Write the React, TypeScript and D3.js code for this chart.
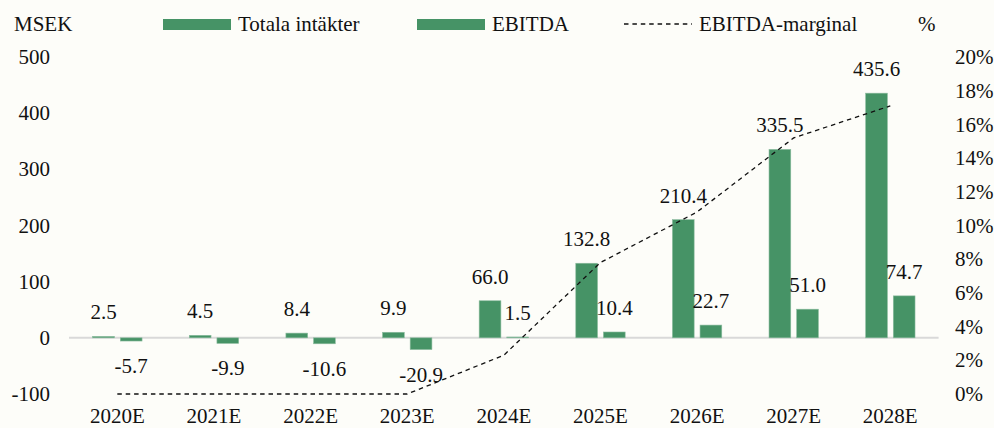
import { useEffect, useRef } from 'react';
import * as d3 from 'd3';

const WIDTH = 994;
const HEIGHT = 428;
const MARGIN = { top: 57, right: 56, bottom: 34, left: 69 };
const FONT = '"Liberation Serif", "Times New Roman", serif';
const GREEN = '#469366';

const years = ['2020E', '2021E', '2022E', '2023E', '2024E', '2025E', '2026E', '2027E', '2028E'];
const revenue = [2.5, 4.5, 8.4, 9.9, 66.0, 132.8, 210.4, 335.5, 435.6];
const ebitda = [-5.7, -9.9, -10.6, -20.9, 1.5, 10.4, 22.7, 51.0, 74.7];
// margin line as drawn (negative years sit on the 0% floor)
const margin = [0, 0, 0, 0, 0.023, 0.078, 0.108, 0.152, 0.171];

const App = () => {
    const axesRef = useRef<SVGGElement>(null);

    const x = d3
        .scaleBand()
        .domain(years)
        .range([MARGIN.left, WIDTH - MARGIN.right + 0.6]);
    const bw = x.bandwidth();

    const yLeft = d3
        .scaleLinear()
        .domain([-100, 500])
        .range([HEIGHT - MARGIN.bottom, MARGIN.top]);
    const yRight = d3
        .scaleLinear()
        .domain([0, 0.2])
        .range([HEIGHT - MARGIN.bottom, MARGIN.top]);

    useEffect(() => {
        const g = d3.select(axesRef.current);
        g.selectAll('*').remove();

        g.selectAll('text.left')
            .data(yLeft.ticks(6))
            .join('text')
            .attr('class', 'left')
            .attr('x', 50)
            .attr('y', (d) => yLeft(d))
            .attr('dy', '0.34em')
            .attr('text-anchor', 'end')
            .text((d) => String(d));

        g.selectAll('text.right')
            .data(yRight.ticks(10))
            .join('text')
            .attr('class', 'right')
            .attr('x', 955)
            .attr('y', (d) => yRight(d))
            .attr('dy', '0.34em')
            .attr('text-anchor', 'start')
            .text((d) => d3.format('.0%')(d));

        g.selectAll('text.cat')
            .data(years)
            .join('text')
            .attr('class', 'cat')
            .attr('x', (d) => (x(d) || 0) + bw / 2)
            .attr('y', 423)
            .attr('text-anchor', 'middle')
            .text((d) => d);
    }, [x, yLeft, yRight, bw]);

    const lineBuilder = d3
        .line<number>()
        .x((_, i) => (x(years[i]) || 0) + bw / 2)
        .y((d) => yRight(d));
    const linePath = lineBuilder(margin) || '';

    const barW = bw * 0.225;
    const revX = (i: number) => (x(years[i]) || 0) + bw * 0.245;
    const ebX = (i: number) => (x(years[i]) || 0) + bw * 0.531;
    const y0 = yLeft(0);

    return (
        <svg
            width={WIDTH}
            height={HEIGHT}
            style={{ position: 'absolute', left: 0, top: 0, background: '#fdfdf9' }}
            fontFamily={FONT}
            fontSize={21}
            fill="#111"
        >
            <rect width={WIDTH} height={HEIGHT} fill="#fdfdf9" />

            {/* legend */}
            <text x={14} y={31}>MSEK</text>
            <rect x={163} y={19} width={68} height={11} fill={GREEN} />
            <text x={238} y={31}>Totala intäkter</text>
            <rect x={417} y={19} width={68} height={11} fill={GREEN} />
            <text x={492} y={31}>EBITDA</text>
            <line x1={624} x2={692} y1={24} y2={24} stroke="#111" strokeWidth={1.3} strokeDasharray="4.5,3.9" />
            <text x={699} y={31}>EBITDA-marginal</text>
            <text x={918} y={31}>%</text>

            <line x1={MARGIN.left} x2={WIDTH - MARGIN.right + 0.6} y1={y0} y2={y0} stroke="#d9d9d9" strokeWidth={2} />

            {revenue.map((v, i) => (
                <rect
                    key={'r' + i}
                    x={revX(i)}
                    y={Math.min(yLeft(v), y0)}
                    width={barW}
                    height={Math.abs(y0 - yLeft(v))}
                    fill={GREEN}
                    stroke="#8cbc9f"
                    strokeWidth={0.6}
                />
            ))}
            {ebitda.map((v, i) => (
                <rect
                    key={'e' + i}
                    x={ebX(i)}
                    y={Math.min(yLeft(v), y0)}
                    width={barW}
                    height={Math.abs(y0 - yLeft(v))}
                    fill={GREEN}
                    stroke="#8cbc9f"
                    strokeWidth={0.6}
                />
            ))}

            <path d={linePath} fill="none" stroke="#111" strokeWidth={1.3} strokeDasharray="4.5,3.9" />

            {revenue.map((v, i) => (
                <text key={'rl' + i} x={revX(i) + barW / 2} y={yLeft(v) - 17} textAnchor="middle">
                    {v.toFixed(1)}
                </text>
            ))}
            {ebitda.map((v, i) => (
                <text
                    key={'el' + i}
                    x={ebX(i) + barW / 2}
                    y={v >= 0 ? yLeft(v) - 17 : yLeft(v) + 32}
                    textAnchor="middle"
                >
                    {v.toFixed(1)}
                </text>
            ))}

            <g ref={axesRef} />
        </svg>
    );
};

export default App;
